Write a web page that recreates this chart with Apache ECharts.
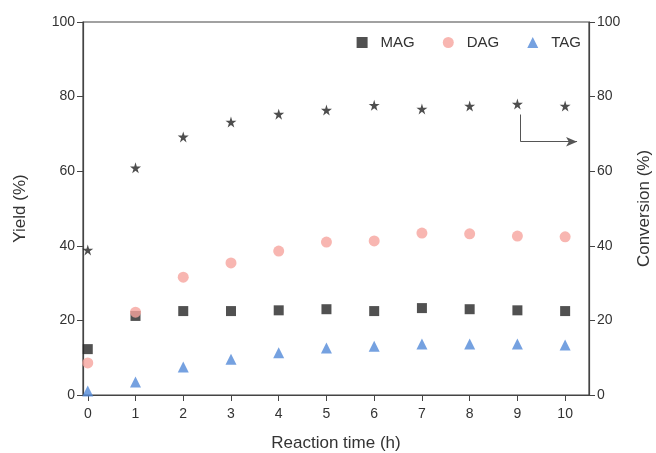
<!DOCTYPE html>
<html>
<head>
<meta charset="utf-8">
<script src="https://cdn.jsdelivr.net/npm/echarts@6/dist/echarts.min.js"></script>
<style>
  html, body { margin: 0; padding: 0; background: #fff; }
  #chart { width: 656px; height: 453px; }
</style>
</head>
<body>
<div id="chart"></div>
<script>
// data
const hours = [0, 1, 2, 3, 4, 5, 6, 7, 8, 9, 10];
const mag = [12.3, 21.2, 22.5, 22.5, 22.7, 23.0, 22.5, 23.3, 23.0, 22.7, 22.5];
const dag = [8.6, 22.2, 31.6, 35.4, 38.6, 41.0, 41.3, 43.4, 43.2, 42.6, 42.4];
const tag = [1.1, 3.5, 7.5, 9.6, 11.3, 12.6, 13.1, 13.7, 13.7, 13.7, 13.4];
const conversion = [38.9, 60.9, 69.2, 73.2, 75.3, 76.4, 77.7, 76.7, 77.5, 78.0, 77.5];

const pair = (arr) => arr.map((v, i) => [hours[i], v]);
const starPath = 'path://M50,0 L61,35 L98,35 L68,57 L79,91 L50,70 L21,91 L32,57 L2,35 L39,35 Z';
const lineColor = '#444';
const font = 'Liberation Sans, Arial, sans-serif';

const chart = echarts.init(document.getElementById('chart'));

function yAxis(name, pos) {
  return {
    type: 'value',
    position: pos,
    name: name,
    nameLocation: 'middle',
    nameGap: pos === 'left' ? 54 : 47,
    nameTextStyle: { fontSize: 17, color: '#333', fontFamily: font },
    min: 0,
    max: 100,
    interval: 20,
    axisLine: { show: true, onZero: false, lineStyle: { color: lineColor, width: 1.2 } },
    axisTick: { show: true, inside: false, length: 6, lineStyle: { color: lineColor } },
    axisLabel: { fontSize: 14, color: '#333', fontFamily: font, margin: 8 },
    splitLine: { show: false }
  };
}

const option = {
  animation: false,
  backgroundColor: '#fff',
  grid: {
    left: 83, right: 67, top: 22, bottom: 58,
    outerBoundsMode: 'none',
    containLabel: false,
    show: true, borderColor: lineColor, borderWidth: 1.2
  },
  legend: {
    data: ['MAG', 'DAG', 'TAG'],
    right: 70,
    top: 30,
    itemWidth: 11,
    itemHeight: 11,
    itemGap: 28,
    textStyle: { fontSize: 15, color: '#333', fontFamily: font, padding: [0, 0, 0, 8] }
  },
  xAxis: {
    type: 'value',
    min: -0.1,
    max: 10.5,
    name: 'Reaction time (h)',
    nameLocation: 'middle',
    nameGap: 40,
    nameTextStyle: { fontSize: 17, color: '#333', fontFamily: font },
    axisLine: { show: true, onZero: false, lineStyle: { color: lineColor, width: 1.2 } },
    axisTick: { show: true, inside: false, length: 6, lineStyle: { color: lineColor }, customValues: hours },
    axisLabel: { fontSize: 14, color: '#333', fontFamily: font, margin: 12, customValues: hours },
    splitLine: { show: false }
  },
  yAxis: [yAxis('Yield (%)', 'left'), yAxis('Conversion (%)', 'right')],
  series: [
    {
      name: 'MAG', type: 'scatter', data: pair(mag),
      symbol: 'rect', symbolSize: 10,
      itemStyle: { color: '#262626' }
    },
    {
      name: 'DAG', type: 'scatter', data: pair(dag),
      symbol: 'circle', symbolSize: 11,
      itemStyle: { color: '#f6a49e' }
    },
    {
      name: 'TAG', type: 'scatter', data: pair(tag),
      symbol: 'triangle', symbolSize: 11,
      itemStyle: { color: '#528ad8' }
    },
    {
      name: 'Conversion', type: 'scatter', yAxisIndex: 1, data: pair(conversion),
      symbol: starPath, symbolSize: 11,
      itemStyle: { color: '#222' },
      markLine: {
        silent: true,
        symbol: ['none', 'none'],
        label: { show: false },
        lineStyle: { color: '#555', width: 1, type: 'solid' },
        data: [
          [{ coord: [9.07, 75.2] }, { coord: [9.07, 67.9] }],
          [{ coord: [9.07, 67.9], symbol: 'none' }, { coord: [10.25, 67.9], symbol: 'arrow', symbolSize: [7, 11] }]
        ]
      }
    }
  ]
};

chart.setOption(option);
</script>
</body>
</html>
